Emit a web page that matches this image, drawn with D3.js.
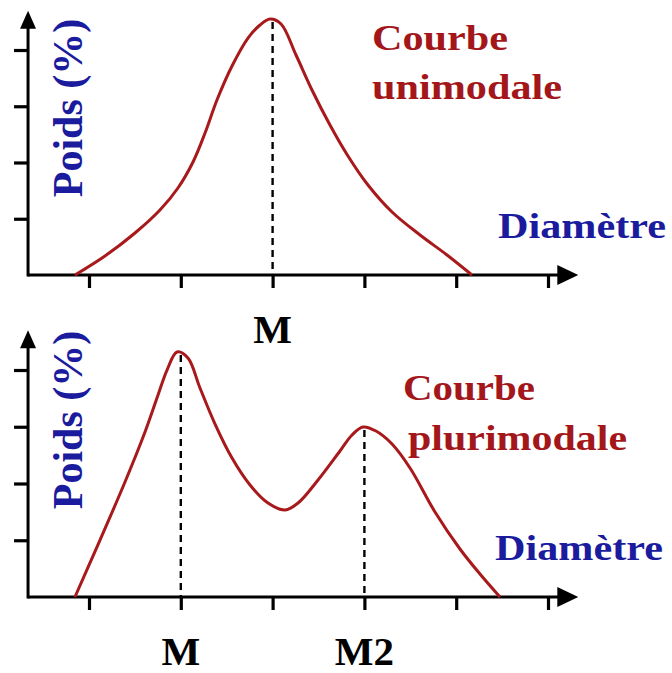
<!DOCTYPE html>
<html><head><meta charset="utf-8">
<script src="https://cdn.jsdelivr.net/npm/d3@7/dist/d3.min.js"></script>
<style>body{margin:0;background:#fff}svg{display:block}</style>
</head><body>
<script>
// ---- data ----
const xTicks = [1, 2, 3, 4, 5, 6];
const yTicks = [1, 2, 3, 4];
const uniX = [0.847, 1.174, 1.501, 1.773, 1.969, 2.133, 2.264, 2.394, 2.558, 2.732, 2.863, 2.972, 3.092, 3.255, 3.429, 3.625, 3.821, 4.039, 4.301, 4.606, 4.900, 5.172];
const uniY = [0,     0.338, 0.747, 1.156, 1.547, 2.009, 2.524, 3.111, 3.716, 4.213, 4.444, 4.551, 4.462, 3.911, 3.289, 2.667, 2.116, 1.600, 1.120, 0.711, 0.356, 0];
const pluriX = [0.847, 1.120, 1.392, 1.610, 1.752, 1.850, 1.959, 2.078, 2.209, 2.373, 2.558, 2.754, 2.950, 3.135, 3.277, 3.495, 3.734, 3.865, 3.985, 4.126, 4.301, 4.497, 4.769, 5.041, 5.259, 5.477];
const pluriY = [0,     1.004, 2.026, 2.907, 3.559, 3.999, 4.317, 4.211, 3.683, 3.048, 2.449, 1.974, 1.656, 1.533, 1.656, 2.062, 2.573, 2.855, 2.996, 2.925, 2.696, 2.273, 1.498, 0.846, 0.405, 0];
const uniModes = [{x: 3, label: "M"}];
const pluriModes = [{x: 2, label: "M"}, {x: 4, label: "M2"}];
const yTitle = "Poids (%)";
const xTitle = "Diamètre";
const uniTitle = ["Courbe", "unimodale"];
const pluriTitle = ["Courbe", "plurimodale"];

// ---- drawing ----
const W = 672, H = 673;
const RED = "#a8191c", BLUE = "#1b1b9e", TRED = "#a3171b";
const FONT = "'Liberation Serif','Times New Roman',serif";
const svg = d3.select("body").append("svg").attr("width", W).attr("height", H);
svg.append("rect").attr("width", W).attr("height", H).attr("fill", "#fff");

const x = d3.scaleLinear().domain([1, 6]).range([89, 548]);

function panel(opts) {
  const y = d3.scaleLinear().domain([0, 4]).range(opts.yRange);
  const g = svg.append("g");
  const x0 = x(0.336), xEnd = x(6.33);
  const yTop = y(4.7);
  // axis lines
  g.append("line").attr("x1", x0).attr("x2", xEnd - 18).attr("y1", y(0)).attr("y2", y(0))
    .attr("stroke", "#000").attr("stroke-width", 3);
  g.append("line").attr("x1", x0).attr("x2", x0).attr("y1", y(0) + 1.5).attr("y2", yTop + 16)
    .attr("stroke", "#000").attr("stroke-width", 3);
  // arrowheads
  g.append("path").attr("d", `M${xEnd},${y(0)} L${xEnd - 21},${y(0) - 10} L${xEnd - 21},${y(0) + 10} Z`).attr("fill", "#000");
  g.append("path").attr("d", `M${x0},${yTop} L${x0 - 8},${yTop + 18} L${x0 + 8},${yTop + 18} Z`).attr("fill", "#000");
  // ticks via d3 axes
  const xa = g.append("g").attr("transform", `translate(0,${y(0)})`)
    .call(d3.axisBottom(x).tickValues(xTicks).tickSize(13).tickFormat(""));
  xa.select(".domain").remove();
  xa.selectAll("line").attr("stroke", "#000").attr("stroke-width", 3.2);
  const ya = g.append("g").attr("transform", `translate(${x0},0)`)
    .call(d3.axisLeft(y).tickValues(yTicks).tickSize(14).tickFormat(""));
  ya.select(".domain").remove();
  ya.selectAll("line").attr("stroke", "#000").attr("stroke-width", 3.2);

  // dashed mode lines
  const pts = opts.xs.map((v, i) => [v, opts.ys[i]]);
  opts.modes.forEach(m => {
    let best = pts[0];
    pts.forEach(p => { if (Math.abs(p[0] - m.x) < Math.abs(best[0] - m.x)) best = p; });
    g.append("line").attr("x1", x(m.x)).attr("x2", x(m.x))
      .attr("y1", y(best[1]) + 3).attr("y2", y(0))
      .attr("stroke", "#000").attr("stroke-width", 2.4).attr("stroke-dasharray", "7,5");
    g.append("text").attr("x", x(m.x)).attr("y", opts.modeLabelY)
      .attr("text-anchor", "middle").attr("font-family", FONT).attr("font-weight", "bold")
      .attr("font-size", 41).attr("fill", "#000").text(m.label);
  });

  // curve
  const line = d3.line().x(d => x(d[0])).y(d => y(d[1])).curve(d3.curveCatmullRom.alpha(0.5));
  g.append("path").datum(pts).attr("d", line).attr("fill", "none")
    .attr("stroke", RED).attr("stroke-width", 3).attr("stroke-linejoin", "round");

  // titles
  g.append("text").attr("transform", `translate(${opts.yTitleX},${opts.yTitleC}) rotate(-90)`)
    .attr("text-anchor", "middle").attr("font-family", FONT).attr("font-weight", "bold")
    .attr("font-size", 42).attr("fill", BLUE).text(yTitle);
  g.append("text").attr("x", opts.xTitle[0]).attr("y", opts.xTitle[1])
    .attr("font-family", FONT).attr("font-weight", "bold").attr("font-size", 36)
    .attr("fill", BLUE).attr("textLength", 168).attr("lengthAdjust", "spacingAndGlyphs").text(xTitle);
  opts.title.forEach((t, i) => {
    g.append("text").attr("x", opts.titlePos[i][0]).attr("y", opts.titlePos[i][1])
      .attr("font-family", FONT).attr("font-weight", "bold").attr("font-size", 36)
      .attr("fill", TRED).attr("textLength", opts.titlePos[i][2])
      .attr("lengthAdjust", "spacingAndGlyphs").text(t);
  });
}

panel({
  yRange: [275, 50], xs: uniX, ys: uniY, modes: uniModes, modeLabelY: 343,
  yTitleX: 82, yTitleC: 108, xTitle: [498, 238],
  title: uniTitle, titlePos: [[372, 50, 136], [372, 99, 190]]
});
panel({
  yRange: [597, 370], xs: pluriX, ys: pluriY, modes: pluriModes, modeLabelY: 665,
  yTitleX: 82, yTitleC: 420, xTitle: [495, 560],
  title: pluriTitle, titlePos: [[403, 400, 132], [408, 450, 219]]
});
</script>
</body></html>
